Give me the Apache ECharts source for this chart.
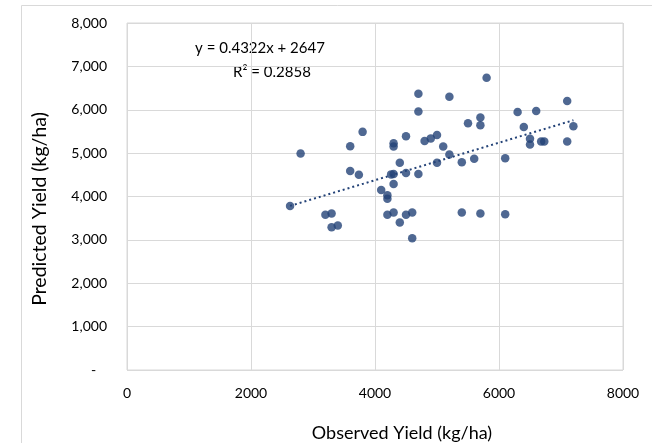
<!DOCTYPE html>
<html><head><meta charset="utf-8">
<script src="https://cdn.jsdelivr.net/npm/echarts@6/dist/echarts.min.js"></script>
<style>html,body{margin:0;padding:0;background:#fff}#c{width:652px;height:443px}</style>
</head><body><div id="c"></div>
<script>
const observed = [2630,2800,3200,3300,3300,3400,3600,3600,3740,3800,4100,4200,4200,4200,4260,4300,4300,4300,4300,4300,4400,4400,4500,4500,4500,4600,4600,4700,4700,4700,4800,4900,5000,5000,5100,5200,5200,5400,5400,5500,5600,5700,5700,5700,5800,6100,6100,6300,6400,6500,6500,6600,6680,6730,7100,7100,7200];
const predicted = [3780,4990,3580,3610,3290,3330,5160,4590,4500,5490,4150,4030,3950,3580,4510,4520,4290,5230,5150,3630,4780,3400,5390,4540,3580,3630,3040,6370,5960,4520,5280,5340,5420,4780,5150,6300,4970,4790,3630,5690,4870,5820,5640,3610,6740,4880,3590,5950,5600,5330,5200,5970,5270,5270,6200,5270,5620];
const trendX = [2630, 7200];
const trendY = [3784, 5759];
const xTicks = [0, 2000, 4000, 6000, 8000];
const yTicks = [0,1000,2000,3000,4000,5000,6000,7000,8000];
const eqText = ['y = 0.4322x + 2647', 'R² = 0.2858'];
const xTitle = 'Observed Yield (kg/ha)';
const yTitle = 'Predicted Yield (kg/ha)';

const FONT = 'Lato, "Open Sans", sans-serif';
const col = '#234277';
const chart = echarts.init(document.getElementById('c'), null, {renderer:'canvas'});
chart.setOption({
  animation:false,
  grid:{left:127, right:29, top:23, bottom:73, show:true, borderColor:'#d9d9d9', borderWidth:1},
  xAxis:{type:'value', min:xTicks[0], max:xTicks[xTicks.length-1], interval:2000,
    axisLine:{show:false}, axisTick:{show:false},
    splitLine:{lineStyle:{color:'#d9d9d9', width:1}},
    axisLabel:{color:'#000', fontFamily:FONT, fontSize:14, margin:16, formatter:v => String(v)}},
  yAxis:{type:'value', min:yTicks[0], max:yTicks[yTicks.length-1], interval:1000,
    axisLine:{show:false}, axisTick:{show:false},
    splitLine:{lineStyle:{color:'#d9d9d9', width:1}},
    axisLabel:{color:'#000', fontFamily:FONT, fontSize:14, margin:20,
      formatter:v => v===0 ? '-   ' : v.toLocaleString('en-US')}},
  graphic:[
    {type:'rect', shape:{x:21.5, y:5.5, width:700, height:500}, style:{fill:'none', stroke:'#d9d9d9', lineWidth:1}, silent:true, z:-1},
    {type:'text', style:{text:eqText[0], x:260, y:48, align:'center', verticalAlign:'middle', font:'15px '+FONT, fill:'#000'}},
    {type:'text', style:{text:eqText[1], x:272, y:72, align:'center', verticalAlign:'middle', font:'15px '+FONT, fill:'#000'}},
    {type:'text', style:{text:xTitle, x:402, y:433, align:'center', verticalAlign:'middle', font:'18px '+FONT, fill:'#000'}},
    {type:'text', x:40, y:209, rotation:Math.PI/2, style:{text:yTitle, x:0, y:0, align:'center', verticalAlign:'middle', font:'19.5px '+FONT, fill:'#000'}}
  ],
  series:[
    {type:'line', data:trendX.map((x,i)=>[x,trendY[i]]), symbol:'none',
      lineStyle:{color:col, width:2, type:[2,3]}, z:1},
    {type:'scatter', data:observed.map((x,i)=>[x,predicted[i]]), symbol:'circle', symbolSize:8.5,
      itemStyle:{color:col}, z:2}
  ]
});
</script></body></html>
